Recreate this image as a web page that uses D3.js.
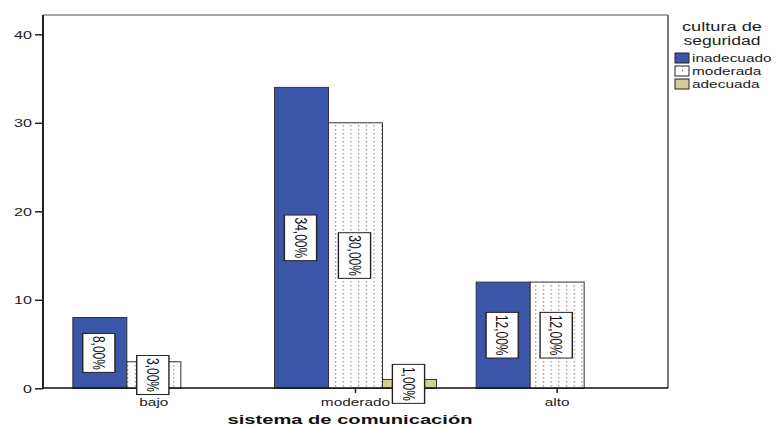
<!DOCTYPE html>
<html>
<head>
<meta charset="utf-8">
<script src="https://cdn.jsdelivr.net/npm/d3@7"></script>
<style>
html,body{margin:0;padding:0;background:#fff;}
svg{display:block;font-family:"Liberation Sans",Arial,sans-serif;}
</style>
</head>
<body>
<svg id="chart" width="777" height="427"></svg>
<script>
const categories = ["bajo", "moderado", "alto"];
const seriesNames = ["inadecuado", "moderada", "adecuada"];
const inadecuado = [8, 34, 12];
const moderada = [3, 30, 12];
const adecuada = [0, 1, 0];
const yTicks = [0, 10, 20, 30, 40];
const legendTitle = ["cultura de", "seguridad"];
const xTitle = "sistema de comunicación";

(function(){
const values = [inadecuado, moderada, adecuada];
const colors = ["#3b55a8", "url(#dots)", "#d5cd97"];
const SX = 1.4;

const svg = d3.select("#chart");
const defs = svg.append("defs");
const pat = defs.append("pattern").attr("id", "dots").attr("patternUnits", "userSpaceOnUse")
  .attr("width", 7.7).attr("height", 4);
pat.append("rect").attr("width", 7.7).attr("height", 4).attr("fill", "#fff");
pat.append("rect").attr("x", 4).attr("y", 1).attr("width", 1).attr("height", 1.5).attr("fill", "#7a7a7a");

const pL = 43, pR = 668, pT = 15, pB = 388;
const y = d3.scaleLinear().domain([0, 40]).range([388.3, 34.3]);
const x0 = d3.scaleBand().domain(categories).range([53, 658]).padding(0);
const groupW = 162;
const x1 = d3.scaleBand().domain(seriesNames).range([0, groupW]).padding(0);

// frame
svg.append("line").attr("x1", pL).attr("x2", pR).attr("y1", pT).attr("y2", pT)
  .attr("stroke", "#8a8a8a").attr("stroke-width", 1.5);
svg.append("line").attr("x1", pR).attr("x2", pR).attr("y1", pT).attr("y2", pB)
  .attr("stroke", "#7a7a7a").attr("stroke-width", 2);

// bars
const bars = [];
categories.forEach((c, ci) => {
  seriesNames.forEach((s, si) => {
    const v = values[si][ci];
    if (v > 0) bars.push({c, s, si, v});
  });
});
const gx = c => x0(c) + x0.bandwidth() / 2 - groupW / 2;
svg.append("g").selectAll("rect").data(bars).join("rect")
  .attr("x", d => gx(d.c) + x1(d.s))
  .attr("y", d => y(d.v))
  .attr("width", x1.bandwidth())
  .attr("height", d => y(0) - y(d.v))
  .attr("fill", d => colors[d.si])
  .attr("stroke", "#333")
  .attr("stroke-width", 1);

// y axis
const yAxis = d3.axisLeft(y).tickValues(yTicks).tickSize(8).tickPadding(4);
const ga = svg.append("g").attr("transform", `translate(${pL},0)`).call(yAxis);
ga.select(".domain").remove();
ga.selectAll("line").attr("stroke", "#222").attr("stroke-width", 1.5);
ga.selectAll(".tick text")
  .attr("x", 0).attr("dy", null)
  .attr("text-anchor", "end").attr("dominant-baseline", "central")
  .attr("font-size", 11.5).attr("fill", "#222")
  .attr("transform", `translate(-11,0) scale(${SX},1)`);
svg.append("line").attr("x1", pL).attr("x2", pL).attr("y1", pT).attr("y2", pB + 1)
  .attr("stroke", "#222").attr("stroke-width", 2);

// x axis
const xAxis = d3.axisBottom(x0).tickSize(5).tickPadding(3);
const gb = svg.append("g").attr("transform", `translate(0,${pB})`).call(xAxis);
gb.select(".domain").remove();
gb.selectAll("line").attr("stroke", "#222").attr("stroke-width", 1.5);
gb.selectAll(".tick text").attr("font-size", 11).attr("fill", "#222").attr("dy", null).attr("y", 0)
  .attr("dominant-baseline", "central")
  .attr("transform", `translate(0,14) scale(${SX},1)`);
svg.append("line").attr("x1", pL).attr("x2", pR).attr("y1", pB).attr("y2", pB)
  .attr("stroke", "#111").attr("stroke-width", 1.5);

// labels
const fmt = v => d3.format(".2f")(v).replace(".", ",") + "%";
bars.forEach(d => {
  const cx = gx(d.c) + x1(d.s) + x1.bandwidth() / 2 - 1;
  const cy = (y(d.v) + y(0)) / 2;
  const g = svg.append("g").attr("transform", `translate(${cx},${cy}) scale(${SX},1) rotate(90)`);
  const txt = g.append("text").text(fmt(d.v)).attr("font-size", 12)
    .attr("text-anchor", "middle").attr("dominant-baseline", "central").attr("fill", "#111");
  const w = txt.node().getComputedTextLength() + 5;
  g.insert("rect", "text").attr("x", -w / 2).attr("y", -11.5).attr("width", w).attr("height", 23)
    .attr("fill", "#fff").attr("stroke", "#222").attr("stroke-width", 1);
});

// legend
const lg = svg.append("g");
legendTitle.forEach((t, i) => {
  lg.append("text").text(t).attr("x", 722).attr("y", 27 + i * 14)
    .attr("text-anchor", "middle").attr("dominant-baseline", "central")
    .attr("font-size", 12).attr("fill", "#222")
    .attr("textLength", i === 0 ? 80 : 77).attr("lengthAdjust", "spacingAndGlyphs");
});
seriesNames.forEach((s, i) => {
  const yy = 58 + i * 13;
  lg.append("rect").attr("x", 675).attr("y", yy - 5).attr("width", 14).attr("height", 10)
    .attr("fill", i === 1 ? "#fff" : colors[i]).attr("stroke", "#222").attr("stroke-width", 1);
  if (i === 1) lg.append("rect").attr("x", 682).attr("y", yy - 1.5).attr("width", 1).attr("height", 1.5).attr("fill", "#666");
  lg.append("text").text(s).attr("dominant-baseline", "central").attr("font-size", 11).attr("fill", "#222")
    .attr("transform", `translate(692,${yy}) scale(${SX},1)`);
});

// x title
svg.append("text").text(xTitle).attr("x", 350).attr("y", 419)
  .attr("text-anchor", "middle").attr("dominant-baseline", "central")
  .attr("font-size", 13).attr("font-weight", "bold").attr("fill", "#111")
  .attr("textLength", 245).attr("lengthAdjust", "spacingAndGlyphs");
})();
</script>
</body>
</html>
